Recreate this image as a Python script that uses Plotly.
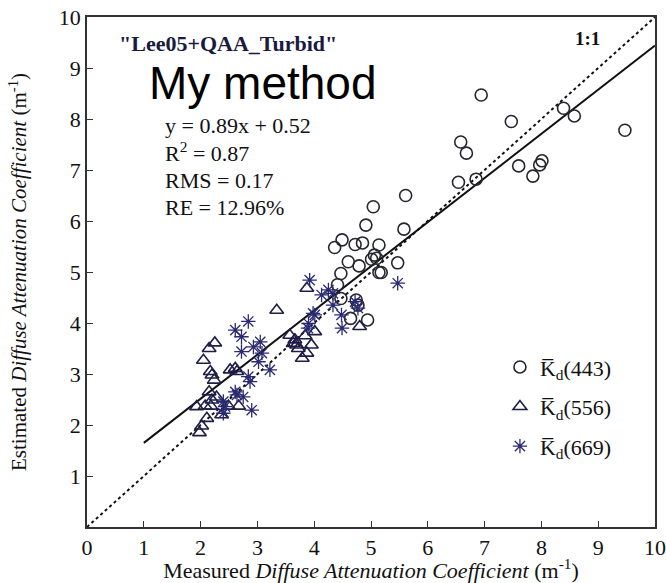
import plotly.graph_objects as go

# ---- data ----
kd443_x = [6.94, 7.47, 8.39, 8.58, 9.47, 6.58, 6.68, 7.60, 7.85, 7.97, 8.01, 6.54, 6.85,
           5.61, 5.04, 4.91, 5.58, 4.49, 4.36, 4.72, 4.85, 5.14, 4.60, 4.79, 5.06, 5.10,
           5.01, 5.47, 5.14, 5.18, 4.47, 4.41, 4.47, 4.74, 4.77, 4.64, 4.94]
kd443_y = [8.47, 7.95, 8.21, 8.06, 7.78, 7.55, 7.33, 7.08, 6.88, 7.10, 7.18, 6.76, 6.82,
           6.50, 6.28, 5.92, 5.84, 5.63, 5.48, 5.54, 5.57, 5.53, 5.20, 5.12, 5.33, 5.27,
           5.25, 5.18, 4.99, 4.99, 4.97, 4.75, 4.48, 4.45, 4.35, 4.09, 4.06]

kd556_x = [3.34, 2.25, 2.15, 2.05, 2.17, 2.20, 2.24, 2.52, 2.61, 2.64, 2.15, 2.28, 2.20,
           1.93, 2.08, 2.18, 2.49, 2.67, 2.37, 2.11, 2.02, 1.98, 3.66, 3.63, 3.69, 3.72,
           3.84, 4.01, 3.95, 3.87, 3.79, 3.57, 3.87, 4.80]
kd556_y = [4.25, 3.61, 3.50, 3.27, 3.05, 2.98, 2.88, 3.08, 3.11, 3.05, 2.65, 2.55, 2.49,
           2.36, 2.37, 2.37, 2.37, 2.37, 2.20, 2.13, 1.98, 1.85, 3.67, 3.60, 3.57, 3.50,
           3.75, 3.83, 3.57, 3.41, 3.31, 3.76, 4.68, 3.93]

kd669_x = [2.84, 2.61, 2.72, 3.05, 2.93, 2.72, 3.08, 3.02, 3.22, 2.84, 2.87, 2.61, 2.64,
           2.75, 2.40, 2.43, 2.40, 2.90, 3.98, 3.90, 3.92, 4.13, 4.25, 4.33, 4.33, 4.01,
           4.48, 4.72, 4.77, 4.49, 5.47, 3.89]
kd669_y = [4.03, 3.86, 3.73, 3.63, 3.53, 3.44, 3.41, 3.24, 3.08, 2.95, 2.85, 2.65, 2.59,
           2.55, 2.46, 2.36, 2.23, 2.29, 4.19, 3.99, 4.84, 4.55, 4.65, 4.58, 4.35, 4.16,
           4.16, 4.42, 4.29, 3.90, 4.78, 3.90]

fit_x = [1.0, 10.0]
fit_y = [1.65, 9.44]
one_x = [0, 10]
one_y = [0, 10]

x_ticks = list(range(0, 11))
y_ticks = list(range(1, 11))

serif = "Liberation Serif, Times New Roman, serif"

fig = go.Figure()
fig.add_trace(go.Scatter(x=one_x, y=one_y, mode="lines",
                         line=dict(color="#111", width=2, dash="dot"), showlegend=False))
fig.add_trace(go.Scatter(x=fit_x, y=fit_y, mode="lines",
                         line=dict(color="#111", width=2), showlegend=False))
fig.add_trace(go.Scatter(x=kd443_x, y=kd443_y, mode="markers", name="K̅<sub>d</sub>(443)",
                         legendgroup="a",
                         marker=dict(symbol="circle-open", size=12, color="#262630",
                                     line=dict(width=1.6))))
fig.add_trace(go.Scatter(x=kd556_x, y=kd556_y, mode="markers", name="K̅<sub>d</sub>(556)",
                         legendgroup="b",
                         marker=dict(symbol="triangle-up-open", size=12, color="#1e1e48",
                                     line=dict(width=1.6))))
fig.add_trace(go.Scatter(x=kd669_x, y=kd669_y, mode="markers", name="K̅<sub>d</sub>(669)",
                         legendgroup="c",
                         marker=dict(symbol="asterisk-open", size=12, color="#2a2a72",
                                     line=dict(width=1.3))))

ann = [
    dict(x=0.053, y=0.949, text="<b>\"Lee05+QAA_Turbid\"</b>", font=dict(family=serif, size=22, color="#1a1a40")),
    dict(x=0.105, y=0.870, text="My method", font=dict(family="Liberation Sans, Arial, sans-serif", size=46, color="#000")),
    dict(x=0.134, y=0.788, text="y = 0.89x + 0.52", font=dict(family=serif, size=22, color="#111")),
    dict(x=0.134, y=0.736, text="R<sup>2</sup> = 0.87", font=dict(family=serif, size=22, color="#111")),
    dict(x=0.134, y=0.680, text="RMS = 0.17", font=dict(family=serif, size=22, color="#111")),
    dict(x=0.134, y=0.627, text="RE = 12.96%", font=dict(family=serif, size=22, color="#111")),
    dict(x=0.855, y=0.957, text="<b>1:1</b>", font=dict(family=serif, size=19, color="#111")),
]
annotations = [dict(xref="paper", yref="paper", xanchor="left", yanchor="middle",
                    showarrow=False, **a) for a in ann]

fig.update_layout(
    width=666, height=583,
    margin=dict(l=87, r=11, t=17, b=56),
    paper_bgcolor="white", plot_bgcolor="white",
    font=dict(family=serif, size=20, color="#111"),
    showlegend=True,
    legend=dict(x=0.727, y=0.236, xanchor="left", yanchor="middle",
                bgcolor="rgba(0,0,0,0)", tracegroupgap=8,
                font=dict(family=serif, size=22, color="#111"), itemwidth=30),
    annotations=annotations,
)
fig.update_xaxes(range=[0, 10], tickvals=x_ticks, ticks="inside", ticklen=6, tickcolor="#333",
                 showline=True, linecolor="#333", linewidth=1.5, mirror=True,
                 showgrid=False, zeroline=False, automargin=False,
                 tickfont=dict(family=serif, size=22),
                 title=dict(text="Measured <i>Diffuse Attenuation Coefficient</i> (m<sup>-1</sup>)",
                            font=dict(family=serif, size=22), standoff=4))
fig.update_yaxes(range=[0, 10], tickvals=y_ticks, ticks="inside", ticklen=6, tickcolor="#333",
                 showline=True, linecolor="#333", linewidth=1.5, mirror=True,
                 showgrid=False, zeroline=False, automargin=False,
                 tickfont=dict(family=serif, size=22),
                 title=dict(text="Estimated <i>Diffuse Attenuation Coefficient</i> (m<sup>-1</sup>)",
                            font=dict(family=serif, size=21), standoff=26))

fig.write_html("out.html", config={"displayModeBar": False},
               post_script="document.body.style.margin='0px';document.body.style.overflow='hidden';")
